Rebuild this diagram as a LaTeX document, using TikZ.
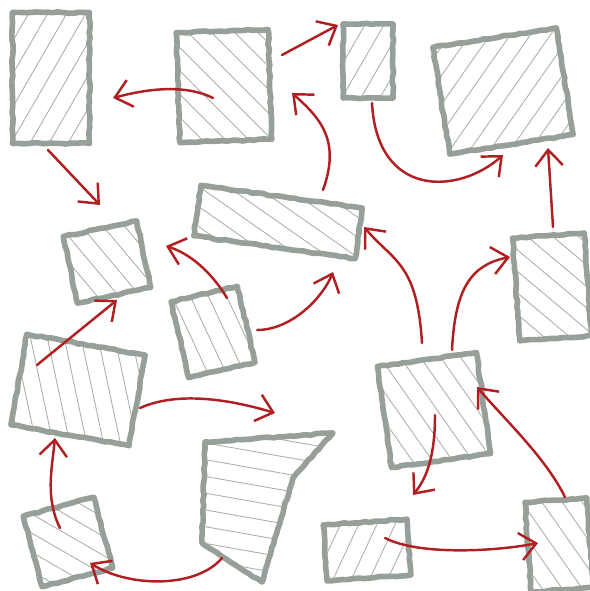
\documentclass[tikz,border=0pt]{standalone}
\usepackage{tikz}
\usetikzlibrary{calc}
\usetikzlibrary{arrows.meta}
\usetikzlibrary{patterns.meta}
\usetikzlibrary{decorations.pathmorphing}
\usepackage{xcolor}

\definecolor{chalk}{RGB}{150,160,153}
\definecolor{hatch}{RGB}{170,175,171}
\definecolor{crayon}{RGB}{176,32,34}

\tikzset{
    box/.style={draw=chalk, line width=3.2pt, line join=round, inner sep=0pt,
        decorate, decoration={random steps, segment length=3pt, amplitude=0.4pt},
        pattern={Lines[angle=#1, distance=3.3mm, line width=0.5pt]}, pattern color=hatch},
    box/.default=-45,
    arr/.style={crayon, line width=1.4pt, line cap=round,
        -{Straight Barb[length=3.2mm, width=5.5mm]}}
}

\begin{document}
\begin{tikzpicture}[x=0.02cm, y=-0.02cm]
    \pgfmathsetseed{7}
    \useasboundingbox (0,0) rectangle (589,591);

    % 1. Draw the boxes (name/x/y/width/height/rotation/hatch angle)
    \foreach \n/\x/\y/\w/\h/\r/\a in {
        b1/51/78/15.4/26.2/0/60,
        b2/224/86/18.4/22/2/-45,
        b3/368/61/10/14.8/0/60,
        b4/503/91/25/21.6/9/55,
        b5/107/262/15/13.6/12/-50,
        b6/278/222/32.6/10.2/-8/-35,
        b7/213/332/13.6/15.6/13/-65,
        b8/552/287/14.4/20.6/4/-40,
        b9/78/390/24/18.4/-10/-78,
        b11/434/410/20/20.4/8/-55,
        b12/68/542/14.6/14.6/15/-30,
        b13/367/550/16.8/11.2/4/65,
        b14/559/545/12.4/18/4/-55} {
        \node[box=\a, minimum width=\w mm, minimum height=\h mm, rotate=\r] (\n) at (\x,\y) {};
    }

    % 2. The odd one: a box narrowing towards its bottom
    \coordinate (b10) at (250,500);
    \draw[box=-10] ($(b10)+(-45,-58)$) -- ($(b10)+(83,-67)$) -- ($(b10)+(43,-22)$)
        -- ($(b10)+(12,82)$) -- ($(b10)+(-48,43)$) -- cycle;

    % 3. Draw the arrows between the boxes
    \draw[arr] ($(b2)+(-11,12)$) .. controls +(-30,-15) and +(30,-8) .. ($(b1)+(62,20)$);
    \draw[arr] ($(b1)+(-3,72)$) -- ($(b5)+(-7,-57)$);
    \draw[arr] ($(b7)+(14,-34)$) .. controls +(-15,-25) and +(25,8) .. ($(b5)+(59,-16)$);
    \draw[arr] ($(b7)+(44,-2)$) .. controls +(35,0) and +(-10,25) .. ($(b6)+(55,50)$);
    \draw[arr] ($(b6)+(45,-32)$) .. controls +(18,-50) and +(28,25) .. ($(b2)+(68,7)$);
    \draw[arr] ($(b2)+(58,-31)$) -- ($(b3)+(-30,-36)$);
    \draw[arr] ($(b3)+(4,42)$) .. controls +(5,95) and +(-45,40) .. ($(b4)+(0,64)$);
    \draw[arr] ($(b8)+(1,-60)$) -- ($(b4)+(45,57)$);
    \draw[arr] ($(b11)+(18,-60)$) .. controls +(3,-60) and +(-40,8) .. ($(b8)+(-42,-30)$);
    \draw[arr] ($(b11)+(-12,-67)$) .. controls +(-5,-80) and +(30,35) .. ($(b6)+(86,5)$);
    \draw[arr] ($(b9)+(-41,-25)$) -- ($(b5)+(10,38)$);
    \draw[arr] ($(b9)+(62,18)$) .. controls +(40,-18) and +(-40,-12) .. ($(b10)+(25,-87)$);
    \draw[arr] ($(b12)+(-8,-14)$) .. controls +(-15,-30) and +(-3,30) .. ($(b9)+(-23,48)$);
    \draw[arr] ($(b10)+(-28,58)$) .. controls +(-25,30) and +(40,25) .. ($(b12)+(22,21)$);
    \draw[arr] ($(b11)+(1,5)$) .. controls +(0,45) and +(12,-15) .. ($(b13)+(46,-55)$);
    \draw[arr] ($(b13)+(18,-12)$) .. controls +(35,18) and +(-40,8) .. ($(b14)+(-21,-2)$);
    \draw[arr] ($(b14)+(6,-48)$) .. controls +(-20,-40) and +(30,35) .. ($(b11)+(43,-23)$);
\end{tikzpicture}
\end{document}
